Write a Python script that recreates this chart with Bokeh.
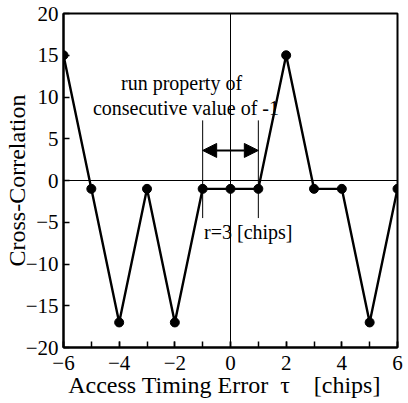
from bokeh.plotting import figure
from bokeh.models import Range1d, FixedTicker, Span, Arrow, NormalHead, Label
from bokeh.embed import file_html
from bokeh.resources import INLINE

tau = [-6, -5, -4, -3, -2, -1, 0, 1, 2, 3, 4, 5, 6]
corr = [15, -1, -17, -1, -17, -1, -1, -1, 15, -1, -1, -17, -1]
x_ticks = [-6, -4, -2, 0, 2, 4, 6]
y_ticks = [-20, -15, -10, -5, 0, 5, 10, 15, 20]
run_edges = [-1, 1]

FONT = "Liberation Serif"

p = figure(frame_width=334, frame_height=334, output_backend="svg", toolbar_location=None,
           x_range=Range1d(-6, 6), y_range=Range1d(-20, 20),
           min_border_left=57, min_border_right=6, min_border_top=13, min_border_bottom=40)
p.grid.visible = False
p.background_fill_color = "white"
p.border_fill_color = "white"
p.outline_line_color = "black"
p.outline_line_width = 2

p.xaxis.ticker = FixedTicker(ticks=x_ticks, minor_ticks=list(range(-6, 7)))
p.yaxis.ticker = FixedTicker(ticks=y_ticks)
for ax in (p.xaxis, p.yaxis):
    ax.major_tick_in = 6
    ax.major_tick_out = 0
    ax.minor_tick_in = 6
    ax.minor_tick_out = 0
    ax.axis_line_width = 2
    ax.major_tick_line_width = 1.5
    ax.minor_tick_line_width = 1.5
    ax.major_label_text_font = FONT
    ax.major_label_text_font_size = "21px"
    ax.major_label_text_color = "black"
    ax.axis_label_text_font = FONT
    ax.axis_label_text_font_size = "24px"
    ax.axis_label_text_font_style = "normal"
    ax.axis_label_text_color = "black"
p.yaxis.minor_tick_in = 0
p.xaxis.major_label_standoff = 8
p.yaxis.major_label_standoff = 5
p.xaxis.axis_label = "Access Timing Error \u00a0\u03c4\u00a0\u00a0\u00a0 [chips]\u00a0\u00a0"
p.yaxis.axis_label = "Cross-Correlation"
p.xaxis.axis_label_standoff = -1
p.yaxis.axis_label_standoff = -7

# zero lines
p.add_layout(Span(location=0, dimension="width", line_color="black", line_width=1))
p.add_layout(Span(location=0, dimension="height", line_color="black", line_width=1))

# run markers
for e in run_edges:
    p.segment(x0=e, y0=7.2, x1=e, y1=-4.5, line_color="black", line_width=1)

p.add_layout(Arrow(x_start=run_edges[0], y_start=3.6, x_end=run_edges[1], y_end=3.6,
                   line_color="black", line_width=2,
                   start=NormalHead(size=14, fill_color="black", line_color="black"),
                   end=NormalHead(size=14, fill_color="black", line_color="black")))

p.line(tau, corr, line_color="black", line_width=2.4)
p.scatter(tau, corr, size=9, fill_color="black", line_color="black")

p.add_layout(Label(x=-1.76, y=11.7, text="run property of", text_font=FONT,
                   text_font_size="20px", text_align="center", text_baseline="middle",
                   text_color="black"))
p.add_layout(Label(x=-1.6, y=8.7, text="consecutive value of -1", text_font=FONT,
                   text_font_size="20px", text_align="center", text_baseline="middle",
                   text_color="black"))
p.add_layout(Label(x=-0.95, y=-6.2, text="r=3 [chips]", text_font=FONT,
                   text_font_size="20px", text_align="left", text_baseline="middle",
                   text_color="black"))

open("out.html", "w").write(file_html(p, INLINE))
